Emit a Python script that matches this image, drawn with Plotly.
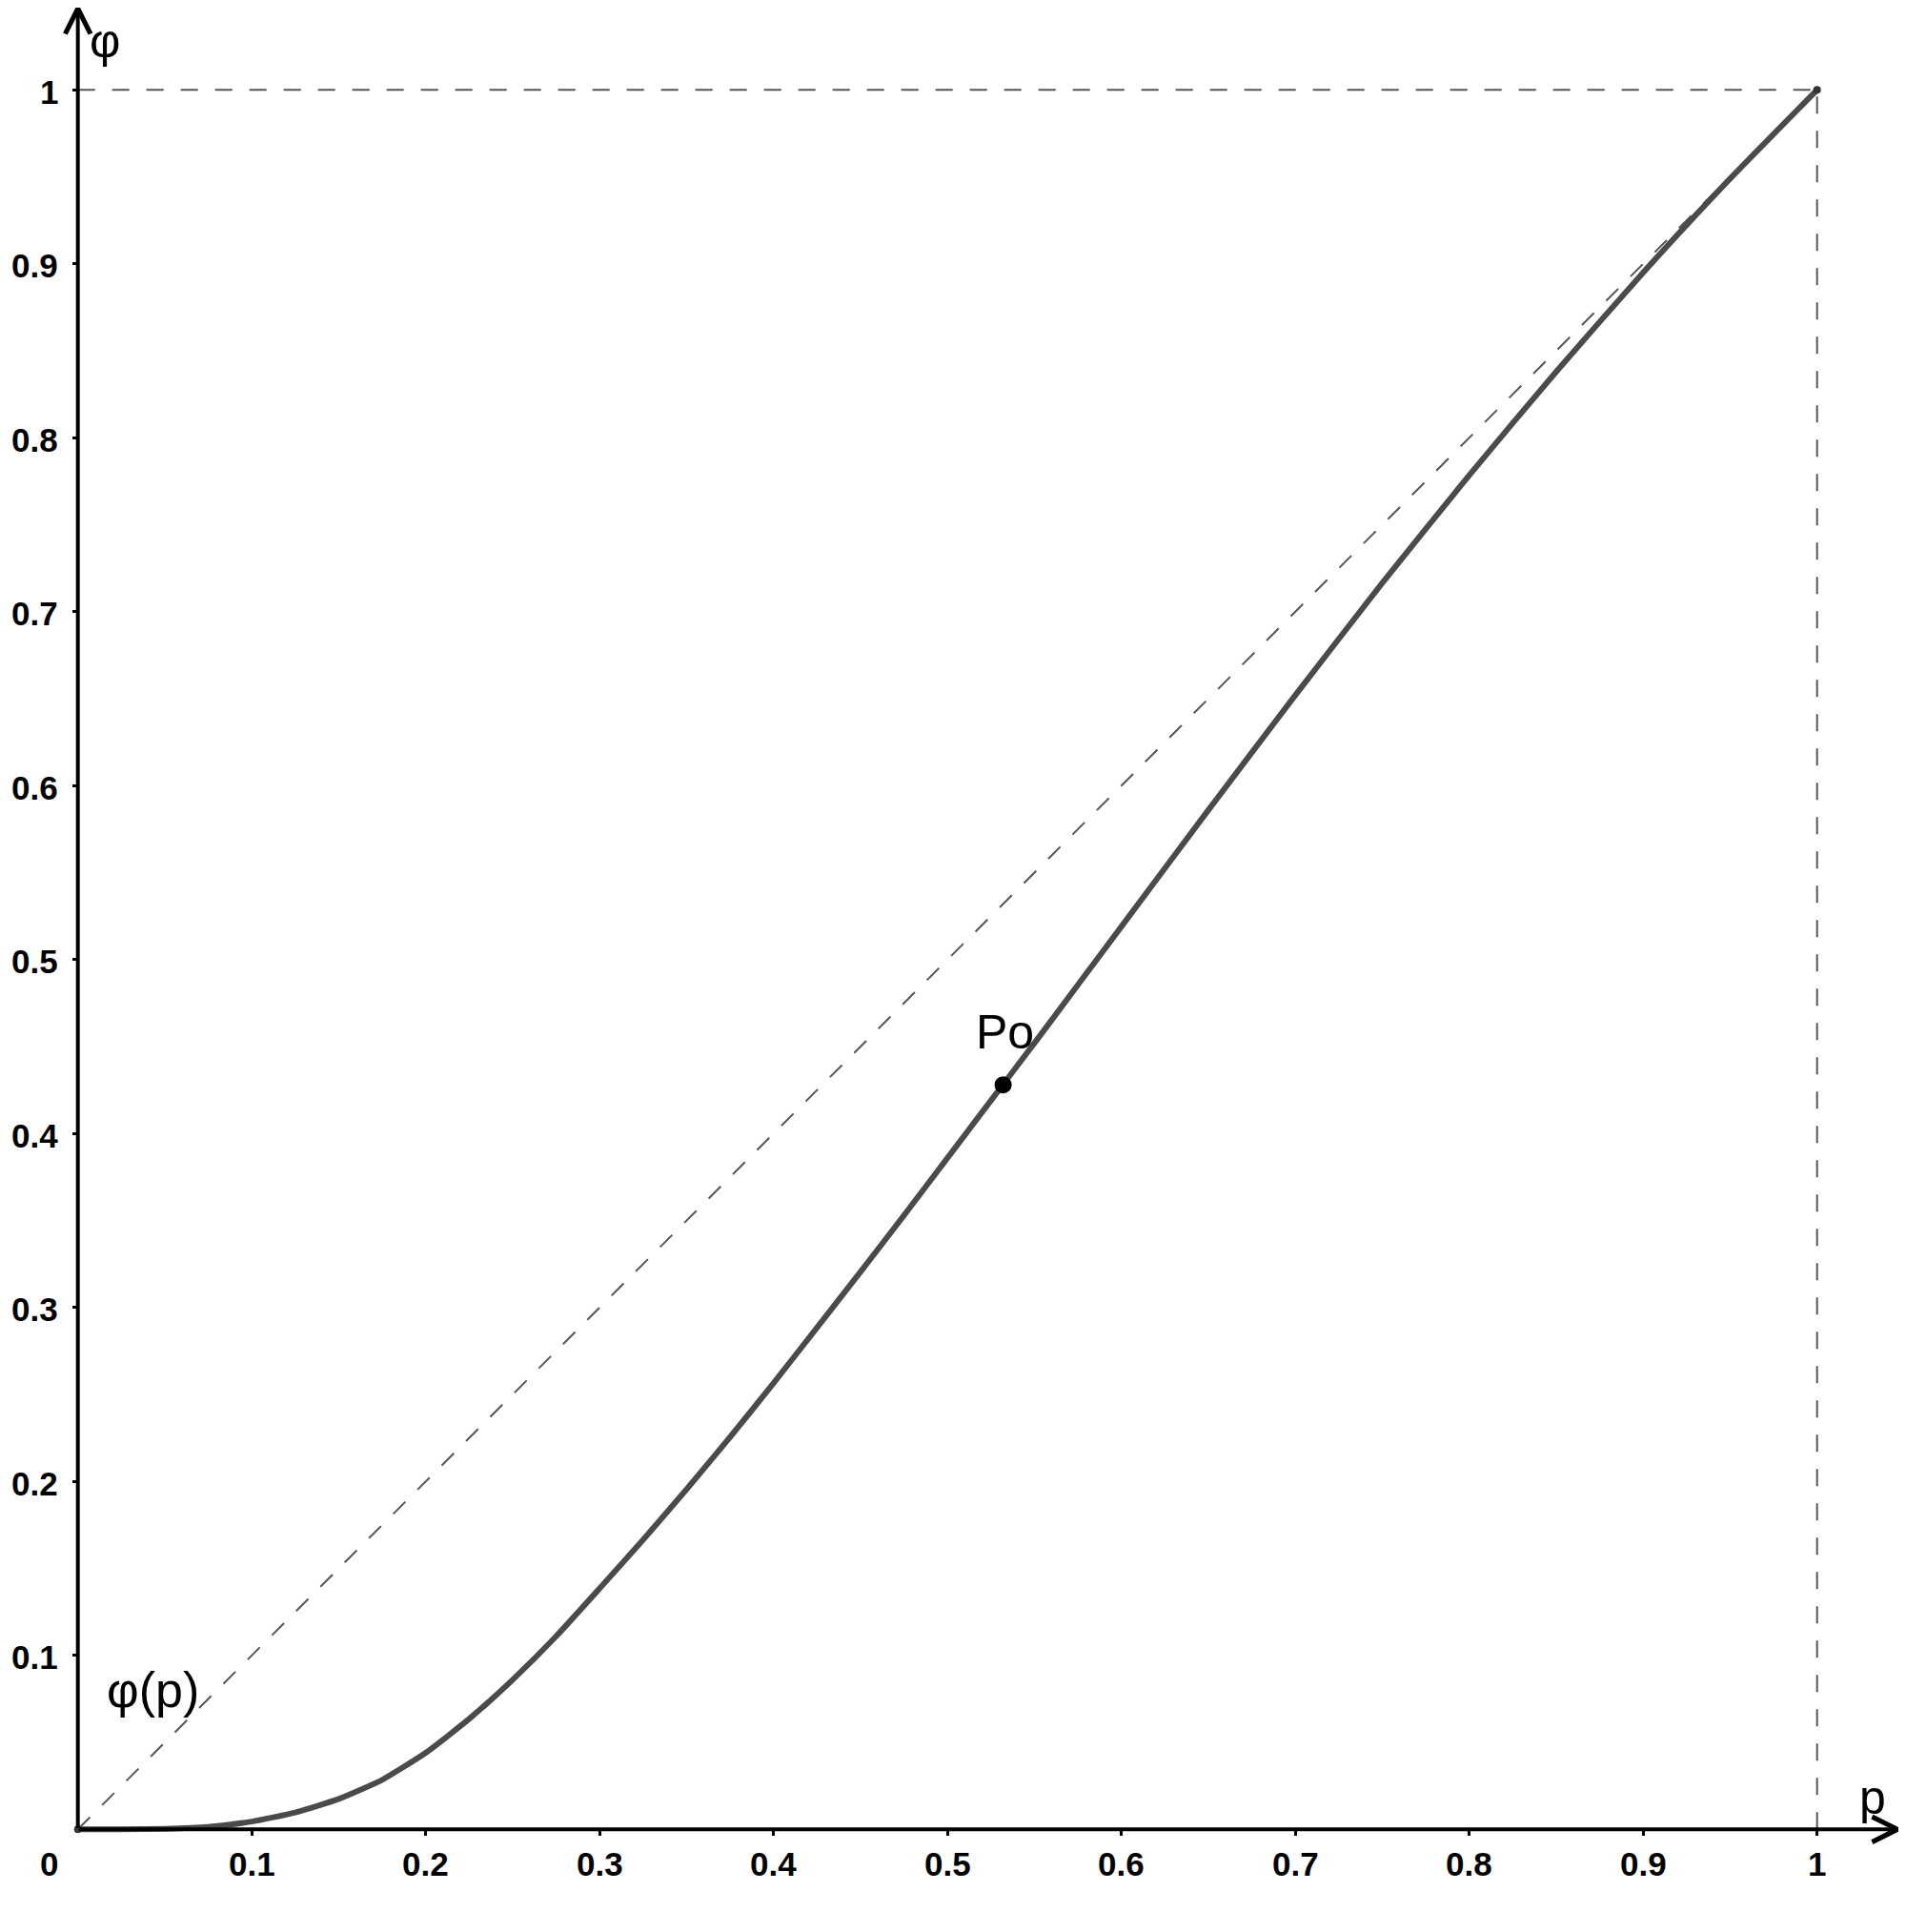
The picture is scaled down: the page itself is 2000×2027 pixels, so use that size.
import plotly.graph_objects as go

# ---- data ----
p_vals = [0.0, 0.025, 0.05, 0.075, 0.1, 0.125, 0.15, 0.175, 0.2, 0.225, 0.25, 0.275,
          0.3, 0.325, 0.35, 0.375, 0.4, 0.425, 0.45, 0.475, 0.5, 0.525, 0.55, 0.575,
          0.6, 0.65, 0.7, 0.75, 0.8, 0.85, 0.9, 0.95, 1.0]
phi_vals = [0.0, 0.0, 0.0003, 0.0014, 0.0045, 0.0097, 0.0175, 0.0285, 0.044, 0.0635, 0.086, 0.111,
            0.1385, 0.1665, 0.1955, 0.2255, 0.2565, 0.2885, 0.3205, 0.353, 0.386, 0.419, 0.452, 0.4855,
            0.519, 0.586, 0.652, 0.7165, 0.7785, 0.838, 0.895, 0.949, 1.0]
po_p = [0.532]
po_phi = [0.428]
diag = [0.0, 1.0]
x_ticks = [0.1, 0.2, 0.3, 0.4, 0.5, 0.6, 0.7, 0.8, 0.9, 1]
y_ticks = [0.1, 0.2, 0.3, 0.4, 0.5, 0.6, 0.7, 0.8, 0.9, 1]
x_tick_text = ["0.1", "0.2", "0.3", "0.4", "0.5", "0.6", "0.7", "0.8", "0.9", "1"]
y_tick_text = ["0.1", "0.2", "0.3", "0.4", "0.5", "0.6", "0.7", "0.8", "0.9", "1"]

W, H = 2000, 2027
# page body has an 8px margin, ranges compensate so the origin lands where it should
X_RANGE = [-0.040384, 1.05551]
Y_RANGE = [-0.063397, 1.047288]
AXIS_END_X = 1.0493
AXIS_END_Y = 1.0499

FONT = "Liberation Sans, Arial, sans-serif"
DASH_COLOR = "#555555"
CURVE_COLOR = "#4a4a4a"

fig = go.Figure()

# dashed helper lines
fig.add_trace(go.Scatter(x=diag, y=diag, mode="lines",
                         line=dict(color=DASH_COLOR, width=2, dash="18px,18px"), hoverinfo="skip"))
fig.add_trace(go.Scatter(x=[0, 1], y=[1, 1], mode="lines",
                         line=dict(color=DASH_COLOR, width=2, dash="18px,18px"), hoverinfo="skip"))
fig.add_trace(go.Scatter(x=[1, 1], y=[0, 1], mode="lines",
                         line=dict(color=DASH_COLOR, width=2, dash="18px,18px"), hoverinfo="skip"))

# curve
fig.add_trace(go.Scatter(x=p_vals, y=phi_vals, mode="lines",
                         line=dict(color=CURVE_COLOR, width=6, shape="spline", smoothing=0.5),
                         hoverinfo="skip"))

# end points
fig.add_trace(go.Scatter(x=[0, 1], y=[0, 1], mode="markers",
                         marker=dict(color="#333333", size=8), hoverinfo="skip"))
# Po
fig.add_trace(go.Scatter(x=po_p, y=po_phi, mode="markers",
                         marker=dict(color="black", size=18), hoverinfo="skip"))

annotations = []
# axes with arrows
annotations.append(dict(x=AXIS_END_X, y=0, ax=0, ay=0, xref="x", yref="y", axref="x", ayref="y",
                        text="", showarrow=True, arrowhead=5, arrowwidth=4, arrowsize=1.3,
                        arrowcolor="black", standoff=0, startstandoff=0))
annotations.append(dict(x=0, y=AXIS_END_Y, ax=0, ay=0, xref="x", yref="y", axref="x", ayref="y",
                        text="", showarrow=True, arrowhead=5, arrowwidth=4, arrowsize=1.3,
                        arrowcolor="black", standoff=0, startstandoff=0))

TICK_FONT = dict(family=FONT, size=35, color="black", weight="bold")
# tick labels
for v, t in zip(x_ticks, x_tick_text):
    annotations.append(dict(x=v, y=-0.0201, xref="x", yref="y", text=t, showarrow=False,
                            xanchor="center", yanchor="middle", font=TICK_FONT))
for v, t in zip(y_ticks, y_tick_text):
    annotations.append(dict(x=-0.0105, y=v, xref="x", yref="y", text=t, showarrow=False,
                            xanchor="right", yanchor="middle", yshift=-2, font=TICK_FONT))
annotations.append(dict(x=-0.0163, y=-0.0201, xref="x", yref="y", text="0", showarrow=False,
                        xanchor="center", yanchor="middle", font=TICK_FONT))

# labels
annotations.append(dict(x=0.0155, y=1.028, xref="x", yref="y", text="φ", showarrow=False,
                        xanchor="center", yanchor="middle",
                        font=dict(family=FONT, size=50, color="black")))
annotations.append(dict(x=1.0322, y=0.0185, xref="x", yref="y", text="p", showarrow=False,
                        xanchor="center", yanchor="middle",
                        font=dict(family=FONT, size=50, color="black")))
annotations.append(dict(x=0.0432, y=0.0804, xref="x", yref="y", text="φ(p)", showarrow=False,
                        xanchor="center", yanchor="middle",
                        font=dict(family=FONT, size=52, color="black")))
annotations.append(dict(x=0.533, y=0.4585, xref="x", yref="y", text="Po", showarrow=False,
                        xanchor="center", yanchor="middle",
                        font=dict(family=FONT, size=50, color="black")))

y0_frac = (0 - Y_RANGE[0]) / (Y_RANGE[1] - Y_RANGE[0])
x0_frac = (0 - X_RANGE[0]) / (X_RANGE[1] - X_RANGE[0])

fig.update_layout(
    width=W, height=H,
    margin=dict(l=0, r=0, t=0, b=0, pad=0),
    paper_bgcolor="white", plot_bgcolor="white",
    showlegend=False,
    template="none",
    annotations=annotations,
    xaxis=dict(range=X_RANGE, anchor="free", position=y0_frac,
               showgrid=False, zeroline=False, showline=False,
               ticks="outside", ticklen=6, tickwidth=3, tickcolor="black",
               tickvals=x_ticks, showticklabels=False, automargin=False, fixedrange=True),
    yaxis=dict(range=Y_RANGE, anchor="free", position=x0_frac,
               showgrid=False, zeroline=False, showline=False,
               ticks="outside", ticklen=6, tickwidth=3, tickcolor="black",
               tickvals=y_ticks, showticklabels=False, automargin=False, fixedrange=True),
)

fig.write_html("out.html")
